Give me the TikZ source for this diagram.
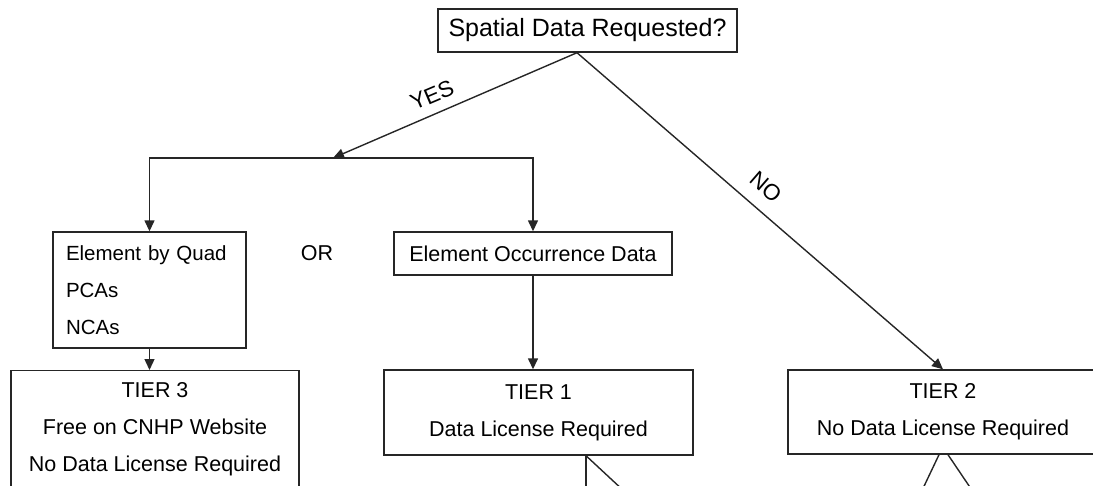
\documentclass[tikz,border=0pt]{standalone}
\usepackage{fontspec}
\setmainfont{Liberation Sans}
\usetikzlibrary{arrows.meta,calc}
\tikzset{
	flowbox/.style={draw=black!85, line width=1.4pt, rectangle, inner sep=0pt, align=center, font=\fontsize{21.5}{37}\selectfont},
	flowline/.style={draw=black!85, line width=1.4pt},
	flowarrow/.style={flowline, -{Triangle[length=11pt,width=10pt]}},
	edgelabel/.style={inner sep=0pt, font=\fontsize{22.5}{24}\selectfont},
}

\begin{document}
\begin{tikzpicture}[x=1pt, y=-1pt]
		\useasboundingbox (0, 0) rectangle (1093, 485);
		
		%%%%% BOXES %%%%%
		\node[flowbox, minimum width=299pt, minimum height=43pt, font=\fontsize{25}{28}\selectfont] (spatial) at (587.5, 30.5) {Spatial Data Requested?};
		
		\node[flowbox, minimum height=116pt, text width=167pt, inner xsep=13pt, align=left, font=\fontsize{20.5}{37}\selectfont] (quad) at (149.5, 290) {Element by Quad\\PCAs\\NCAs};
		\node[edgelabel, font=\fontsize{21.5}{24}\selectfont] (or) at (317, 253) {OR};
		\node[flowbox, minimum width=278pt, minimum height=43pt] (eod) at (533, 253.5) {Element Occurrence Data};
		
		\node[flowbox, anchor=north, minimum width=288pt, minimum height=117pt] (tier3) at (155, 370) {TIER 3\\Free on CNHP Website\\No Data License Required};
		\node[flowbox, minimum width=309pt, minimum height=85pt] (tier1) at (538.5, 412.5) {TIER 1\\Data License Required};
		\node[flowbox, minimum width=310pt, minimum height=84pt] (tier2) at (943, 412) {TIER 2\\No Data License Required};
		
		%%%%% CONNECTORS %%%%%
		\coordinate (fork) at ([xshift=-10.5pt]spatial.south);
		\coordinate (yesend) at (333, 158);
		
		\draw[flowarrow] (fork) -- (yesend);
		\node[edgelabel, rotate=23] (yes) at (432, 95) {YES};
		\draw[flowarrow] (yesend) -| (quad.north);
		\draw[flowarrow] (yesend) -| (eod.north);
		
		\draw[flowarrow] (fork) -- (tier2.north);
		\node[edgelabel, rotate=-41] (no) at (766, 187) {NO};
		
		\draw[flowarrow] (quad.south) -- (quad.south |- tier3.north);
		\draw[flowarrow] (eod.south) -- (eod.south |- tier1.north);
		
		% lines running off the bottom edge
		\coordinate (tieronedown) at ([xshift=47.5pt]tier1.south);
		\draw[flowline] (tieronedown) -- ++(0, 40);
		\draw[flowline] (tieronedown) -- ++(43, 40);
		\draw[flowline] ([xshift=-4pt]tier2.south) -- ++(-19, 40);
		\draw[flowline] ([xshift=5pt]tier2.south) -- ++(27, 40);
		
\end{tikzpicture}
\end{document}
